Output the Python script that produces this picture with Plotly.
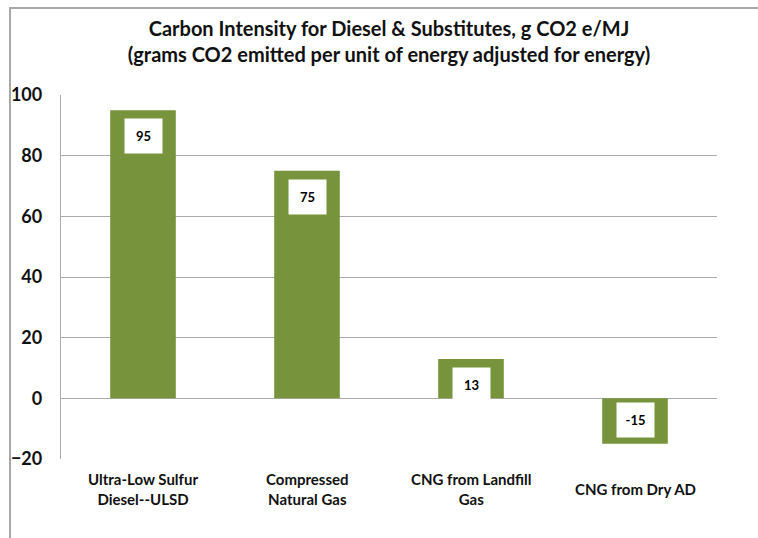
import plotly.graph_objects as go

categories = ["Ultra-Low Sulfur<br>Diesel--ULSD", "Compressed<br>Natural Gas",
              "CNG from Landfill<br>Gas", "CNG from Dry AD"]
values = [95, 75, 13, -15]
y_ticks = [-20, 0, 20, 40, 60, 80, 100]

W, H = 758, 538
ML, MR, MT, MB = 61, 41, 95, 79
PW, PH = W - ML - MR, H - MT - MB

GREEN = "#77933C"
GRID = "#ABABAB"
FONT = "Lato"
TXT = "#111111"

fig = go.Figure(go.Bar(x=categories, y=values, marker=dict(color=GREEN, line=dict(width=0)),
                       width=0.4, hoverinfo="skip"))

ann = []
for c, v in zip(categories, values):
    ann.append(dict(x=c, y=v, xref="x", yref="y", text="<b>%d</b>" % v, showarrow=False,
                    bgcolor="white", width=33, height=30, borderpad=2,
                    font=dict(family=FONT, size=13, color="black"),
                    yanchor="top" if v >= 0 else "bottom",
                    yshift=-8 if v >= 0 else 6))
    ann.append(dict(x=c, y=0, xref="x", yref="paper", text="<b>%s</b>" % c, showarrow=False,
                    yanchor="middle", yshift=-30,
                    font=dict(family=FONT, size=15, color=TXT)))

shapes = [dict(type="rect", xref="paper", yref="paper",
               x0=(10 - ML) / PW, x1=(W + 20 - ML) / PW,
               y0=(-20 - MB) / PH, y1=(H - MB - 8) / PH,
               line=dict(color="#A8A8A8", width=2), fillcolor="rgba(0,0,0,0)", layer="below")]

fig.update_layout(
    width=W, height=H,
    margin=dict(l=ML, r=MR, t=MT, b=MB),
    plot_bgcolor="white", paper_bgcolor="white",
    title=dict(text="<b>Carbon Intensity for Diesel & Substitutes, g CO2 e/MJ<br>(grams CO2 emitted per unit of energy adjusted for energy)</b>",
               x=0.5, xref="paper", y=1 - 36 / H, yanchor="middle",
               font=dict(family=FONT, size=20, color=TXT)),
    showlegend=False,
    annotations=ann,
    shapes=shapes,
    xaxis=dict(showticklabels=False, showgrid=False, showline=False, zeroline=False, fixedrange=True),
    yaxis=dict(range=[-20, 100], tickvals=y_ticks, showgrid=True, gridcolor=GRID, gridwidth=1.3,
               zeroline=True, zerolinecolor=GRID, zerolinewidth=1.3,
               showline=True, linecolor=GRID, linewidth=1.3,
               ticks="outside", ticklen=14, tickcolor="rgba(0,0,0,0)",
               tickfont=dict(family=FONT, size=18, color=TXT, weight="bold"), fixedrange=True),
)

fig.write_html("out.html", config={"displayModeBar": False},
               post_script="document.body.style.margin='0';document.body.style.overflow='hidden';")
